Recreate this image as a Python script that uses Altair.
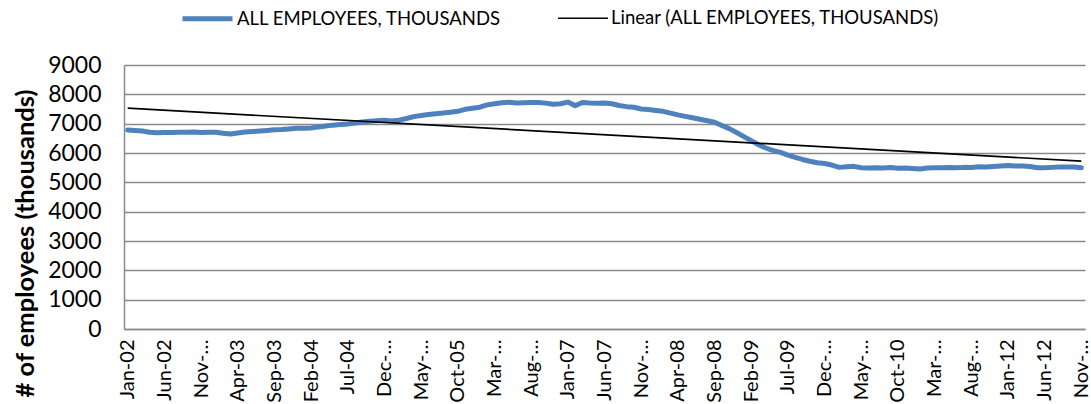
import json

import altair as alt
import pandas as pd

# Monthly all-employee counts (thousands), Jan 2002 - Nov 2012
employees = [
    6780, 6770, 6750, 6710, 6690, 6700, 6700, 6705, 6710, 6715, 6700, 6710,  # 2002
    6705, 6670, 6650, 6680, 6715, 6730, 6750, 6770, 6790, 6800, 6820, 6840,  # 2003
    6845, 6850, 6890, 6920, 6950, 6970, 6990, 7020, 7060, 7080, 7100, 7115,  # 2004
    7090, 7120, 7175, 7240, 7280, 7310, 7340, 7360, 7390, 7420, 7490, 7525,  # 2005
    7560, 7640, 7680, 7715, 7730, 7705, 7710, 7720, 7725, 7700, 7665, 7680,  # 2006
    7735, 7615, 7720, 7705, 7700, 7705, 7680, 7620, 7580, 7560, 7500, 7480,  # 2007
    7450, 7420, 7360, 7300, 7250, 7200, 7150, 7100, 7050, 6940, 6830, 6700,  # 2008
    6560, 6420, 6280, 6170, 6080, 6020, 5930, 5850, 5780, 5720, 5670, 5640,  # 2009
    5590, 5510, 5530, 5545, 5500, 5490, 5500, 5490, 5505, 5480, 5490, 5475,  # 2010
    5455, 5490, 5500, 5500, 5505, 5500, 5510, 5505, 5530, 5520, 5540, 5560,  # 2011
    5570, 5555, 5560, 5540, 5500, 5500, 5510, 5520, 5520, 5525, 5500,        # 2012
]

# Category labels shown on every fifth month
tick_labels = [
    "Jan-02", "Jun-02", "Nov-…", "Apr-03", "Sep-03", "Feb-04", "Jul-04",
    "Dec-…", "May-…", "Oct-05", "Mar-…", "Aug-…", "Jan-07", "Jun-07",
    "Nov-…", "Apr-08", "Sep-08", "Feb-09", "Jul-09", "Dec-…", "May-…",
    "Oct-10", "Mar-…", "Aug-…", "Jan-12", "Jun-12", "Nov-…",
]
y_ticks = [0, 1000, 2000, 3000, 4000, 5000, 6000, 7000, 8000, 9000]

series_names = ["ALL EMPLOYEES, THOUSANDS", "Linear (ALL EMPLOYEES, THOUSANDS)"]
series_colors = ["#4F81BD", "#000000"]
series_widths = [5, 1.7]

n = len(employees)
months = pd.date_range("2002-01-01", periods=n, freq="MS").strftime("%b-%y").tolist()
df = pd.DataFrame({
    "idx": list(range(n)),
    "month": months,
    "employees": employees,
    "series": series_names[0],
})

FONT = "Lato"
GRID = "#8a8a8a"

label_expr = f"{json.dumps(tick_labels, ensure_ascii=False)}[round(datum.value / 5)]"

x_enc = alt.X(
    "idx:Q",
    scale=alt.Scale(domain=[-0.5, n - 0.5], nice=False, zero=False),
    axis=alt.Axis(
        values=list(range(0, n, 5)),
        labelExpr=label_expr,
        labelAngle=-90,
        labelOverlap=False,
        labelFont=FONT,
        labelFontSize=20,
        labelColor="#000000",
        labelPadding=10,
        ticks=False,
        grid=False,
        domainColor=GRID,
        domainWidth=1.5,
        title=None,
    ),
)
y_enc = alt.Y(
    "employees:Q",
    scale=alt.Scale(domain=[0, 9000], nice=False),
    axis=alt.Axis(
        values=y_ticks,
        format="d",
        labelFont=FONT,
        labelFontSize=23,
        labelColor="#000000",
        labelPadding=23,
        ticks=False,
        grid=True,
        gridColor=GRID,
        gridWidth=1.5,
        domainColor=GRID,
        domainWidth=1.5,
        title="# of employees (thousands)",
        titleFont=FONT,
        titleFontSize=25.5,
        titleFontWeight="bold",
        titleColor="#000000",
        titleAngle=-90,
        titleAlign="center",
        titleBaseline="middle",
        titleX=-99,
        titleY=178,
    ),
)

color_enc = alt.Color(
    "series:N",
    scale=alt.Scale(domain=series_names, range=series_colors),
    legend=alt.Legend(title=None),
)
width_enc = alt.StrokeWidth(
    "series:N",
    scale=alt.Scale(domain=series_names, range=series_widths),
    legend=alt.Legend(title=None),
)

actual = alt.Chart(df).mark_line(strokeJoin="round", strokeCap="round").encode(
    x=x_enc, y=y_enc, color=color_enc, strokeWidth=width_enc
)

trend = (
    alt.Chart(df)
    .transform_regression("idx", "employees", method="linear", extent=[0, n - 1])
    .transform_calculate(series=f"'{series_names[1]}'")
    .mark_line()
    .encode(x=x_enc, y=y_enc, color=color_enc, strokeWidth=width_enc)
)

chart = (
    alt.layer(actual, trend)
    .properties(
        width=961,
        height=264,
        autosize=alt.AutoSizeParams(type="none"),
        padding={"left": 124, "top": 65, "right": 6, "bottom": 75},
    )
    .configure_view(stroke=None)
    .configure_legend(
        orient="none",
        legendX=56,
        legendY=-74,
        direction="horizontal",
        symbolType="stroke",
        symbolSize=2500,
        labelFont=FONT,
        labelFontSize=18.5,
        labelLimit=0,
        labelColor="#000000",
        columnPadding=52,
        labelOffset=2,
    )
)

chart.save("out.html", embed_options={"renderer": "svg", "actions": False})
